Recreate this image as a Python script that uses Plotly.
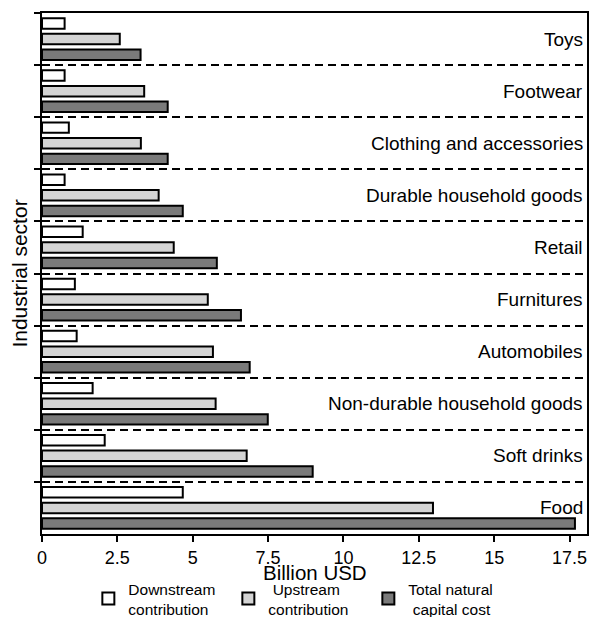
import plotly.graph_objects as go

sectors = ["Toys", "Footwear", "Clothing and accessories", "Durable household goods",
           "Retail", "Furnitures", "Automobiles", "Non-durable household goods",
           "Soft drinks", "Food"]
downstream = [0.75, 0.75, 0.89, 0.75, 1.35, 1.09, 1.15, 1.68, 2.08, 4.67]
upstream = [2.58, 3.39, 3.28, 3.87, 4.37, 5.5, 5.67, 5.76, 6.79, 12.97]
total = [3.27, 4.17, 4.17, 4.67, 5.8, 6.6, 6.89, 7.49, 8.98, 17.68]

series_names = ["Downstream<br>contribution", " Upstream<br>contribution", "Total natural<br> capital cost"]
series_colors = ["#ffffff", "#d4d4d4", "#7a7a7a"]
x_tickvals = [0, 2.5, 5, 7.5, 10, 12.5, 15, 17.5]
x_ticktext = ["0", "2.5", "5", "7.5", "10", "12.5", "15", "17.5"]
x_title = "Billion USD"
y_title = "Industrial sector"

FONT = "Liberation Sans, Arial, sans-serif"

fig = go.Figure()
for name, vals, col in zip(series_names, [downstream, upstream, total], series_colors):
    fig.add_trace(go.Bar(
        y=sectors, x=vals, name=name, orientation="h",
        marker=dict(color=col, line=dict(color="black", width=2)),
    ))

for s in sectors:
    fig.add_annotation(x=1, xref="paper", y=s, yref="y", text=s, showarrow=False,
                       xanchor="right", yanchor="middle", xshift=-2,
                       font=dict(family=FONT, size=19, color="black"))

# x-axis title (placed as annotation so the legend does not push it)
fig.add_annotation(x=0.5, xref="paper", y=0, yref="paper", text=x_title, showarrow=False,
                   xanchor="center", yanchor="top", yshift=-26, borderpad=0,
                   font=dict(family=FONT, size=20.5, color="black"))

fig.update_layout(
    width=589, height=617,
    margin=dict(l=42, r=2, t=13, b=83, autoexpand=False),
    paper_bgcolor="white", plot_bgcolor="white",
    barmode="group", bargap=0.1, bargroupgap=0.33,
    font=dict(family=FONT, color="black"),
    legend=dict(orientation="h", xref="container", yref="container",
                x=0.15, y=0.073, xanchor="left", yanchor="top",
                font=dict(family=FONT, size=15.5, color="black"),
                entrywidth=95, traceorder="normal", itemwidth=30),
    xaxis=dict(range=[0, 18.08], tickvals=x_tickvals, ticktext=x_ticktext,
               showline=True, linecolor="black", linewidth=2, mirror=True,
               ticks="outside", ticklen=6, tickwidth=2, tickcolor="black",
               tickfont=dict(family=FONT, size=18, color="black"),
               showgrid=False, zeroline=False),
    yaxis=dict(type="category", categoryorder="array", categoryarray=sectors,
               range=[9.5, -0.5], tickson="boundaries",
               showline=True, linecolor="black", linewidth=2, mirror=True,
               ticks="outside", ticklen=6, tickwidth=2, tickcolor="black",
               showticklabels=False,
               showgrid=True, gridcolor="black", gridwidth=2, griddash="8px,5px",
               zeroline=False,
               title=dict(text=y_title, font=dict(family=FONT, size=21, color="black"), standoff=7)),
)

fig.write_html("out.html", config={"displayModeBar": False},
               post_script="document.body.style.margin='0';document.body.style.padding='0';")
